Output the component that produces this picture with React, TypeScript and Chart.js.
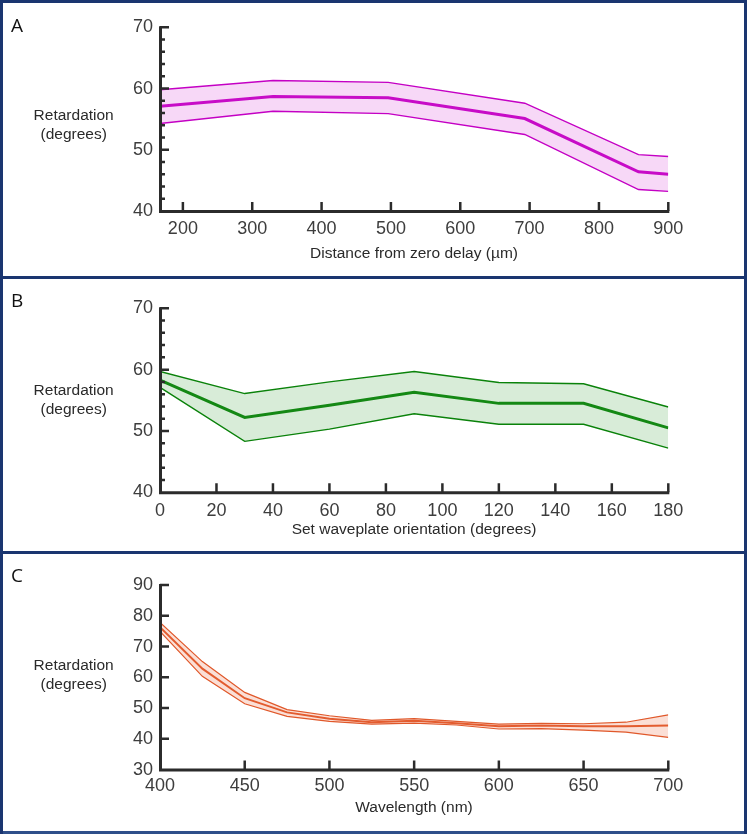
import React, { useEffect, useRef } from 'react';
import { Chart, registerables } from 'chart.js';

Chart.register(...registerables);

const FONT = '"Liberation Sans", Arial, Helvetica, sans-serif';

// ---------- Panel A : retardation vs distance from zero delay ----------
const A_X = [167, 330, 496, 693, 857, 900];
const A_MEAN = [57.1, 58.7, 58.5, 55.1, 46.4, 46.0];
const A_UPPER = [59.8, 61.3, 61.0, 57.6, 49.2, 48.9];
const A_LOWER = [54.3, 56.3, 55.9, 52.5, 43.5, 43.2];
const A_X_TICKS = [200, 300, 400, 500, 600, 700, 800, 900];
const A_Y_TICKS = [40, 50, 60, 70];
const A_Y_MINOR = [42, 44, 46, 48, 52, 54, 56, 58, 62, 64, 66, 68];

// ---------- Panel B : retardation vs set waveplate orientation ----------
const B_X = [0, 30, 60, 90, 120, 150, 180];
const B_MEAN = [58.3, 52.2, 54.2, 56.3, 54.5, 54.5, 50.5];
const B_UPPER = [59.7, 56.1, 58.0, 59.7, 57.9, 57.7, 53.9];
const B_LOWER = [57.1, 48.3, 50.3, 52.8, 51.1, 51.1, 47.2];
const B_X_TICKS = [0, 20, 40, 60, 80, 100, 120, 140, 160, 180];
const B_Y_TICKS = [40, 50, 60, 70];
const B_Y_MINOR = [42, 44, 46, 48, 52, 54, 56, 58, 62, 64, 66, 68];

// ---------- Panel C : retardation vs wavelength ----------
const C_X = [400, 425, 450, 475, 500, 525, 550, 575, 600, 625, 650, 675, 700];
const C_MEAN = [76.3, 62.8, 53.2, 48.6, 46.5, 45.4, 45.9, 45.1, 44.1, 44.3, 44.1, 44.1, 44.3];
const C_UPPER = [77.8, 65.1, 55.1, 49.5, 47.5, 46.0, 46.6, 45.7, 44.8, 45.0, 44.9, 45.4, 47.8];
const C_LOWER = [74.9, 60.3, 51.4, 47.3, 45.7, 44.8, 45.1, 44.5, 43.2, 43.3, 42.8, 42.2, 40.5];
const C_X_TICKS = [400, 450, 500, 550, 600, 650, 700];
const C_Y_TICKS = [30, 40, 50, 60, 70, 80, 90];
const C_Y_MINOR: number[] = [];

type PanelCfg = {
  top: number;
  height: number;
  letter: string;
  xTitle: string;
  xTitleTop: number;
  x: number[];
  mean: number[];
  upper: number[];
  lower: number[];
  xMin: number;
  xMax: number;
  yMin: number;
  yMax: number;
  xTicks: number[];
  yTicks: number[];
  yMinor: number[];
  color: string;
  fill: string;
  meanWidth: number;
  boundWidth: number;
  pad: { top: number; bottom: number };
  xLabelPad: number;
};

const PANELS: PanelCfg[] = [
  {
    top: 0, height: 276, letter: 'A', xTitle: 'Distance from zero delay (µm)', xTitleTop: 244.4,
    x: A_X, mean: A_MEAN, upper: A_UPPER, lower: A_LOWER,
    xMin: 167, xMax: 900, yMin: 40, yMax: 70,
    xTicks: A_X_TICKS, yTicks: A_Y_TICKS, yMinor: A_Y_MINOR,
    color: '#C400C4', fill: 'rgba(214, 60, 214, 0.2)', meanWidth: 3, boundWidth: 1.4,
    pad: { top: 27.3, bottom: 211 }, xLabelPad: 7,
  },
  {
    top: 275, height: 276, letter: 'B', xTitle: 'Set waveplate orientation (degrees)', xTitleTop: 245,
    x: B_X, mean: B_MEAN, upper: B_UPPER, lower: B_LOWER,
    xMin: 0, xMax: 180, yMin: 40, yMax: 70,
    xTicks: B_X_TICKS, yTicks: B_Y_TICKS, yMinor: B_Y_MINOR,
    color: '#0A820A', fill: 'rgba(60, 160, 60, 0.2)', meanWidth: 3, boundWidth: 1.4,
    pad: { top: 33.3, bottom: 217.3 }, xLabelPad: 8,
  },
  {
    top: 550, height: 284, letter: 'C', xTitle: 'Wavelength (nm)', xTitleTop: 248.4,
    x: C_X, mean: C_MEAN, upper: C_UPPER, lower: C_LOWER,
    xMin: 400, xMax: 700, yMin: 30, yMax: 90,
    xTicks: C_X_TICKS, yTicks: C_Y_TICKS, yMinor: C_Y_MINOR,
    color: '#E0582A', fill: 'rgba(235, 110, 70, 0.22)', meanWidth: 2, boundWidth: 1.2,
    pad: { top: 35, bottom: 219.6 }, xLabelPad: 6,
  },
];

const CHART_LEFT = 160;
const CHART_RIGHT = 668.3;
const W = 747;

function makeAxesPlugin(cfg: PanelCfg) {
  return {
    id: 'customAxes' + cfg.letter,
    afterDatasetsDraw(chart: any) {
      const { ctx, chartArea } = chart;
      const { left, right, top, bottom } = chartArea;
      const xs = chart.scales.x;
      const ys = chart.scales.y;
      ctx.save();
      ctx.strokeStyle = '#2b2b2b';
      ctx.lineCap = 'butt';
      ctx.lineWidth = 3;
      ctx.beginPath();
      ctx.moveTo(left + 0.5, top - 1);
      ctx.lineTo(left + 0.5, bottom + 0.5);
      ctx.lineTo(right + 1, bottom + 0.5);
      ctx.stroke();
      ctx.lineWidth = 2.5;
      ctx.beginPath();
      cfg.yTicks.forEach((v) => {
        if (v === cfg.yMin) return;
        const py = ys.getPixelForValue(v);
        ctx.moveTo(left, py);
        ctx.lineTo(left + 9, py);
      });
      cfg.yMinor.forEach((v) => {
        const py = ys.getPixelForValue(v);
        ctx.moveTo(left, py);
        ctx.lineTo(left + 5, py);
      });
      cfg.xTicks.forEach((v) => {
        if (v === cfg.xMin) return;
        const px = xs.getPixelForValue(v);
        ctx.moveTo(px, bottom);
        ctx.lineTo(px, bottom - 9);
      });
      ctx.stroke();
      ctx.restore();
    },
  };
}

function Panel({ cfg }: { cfg: PanelCfg }) {
  const ref = useRef<HTMLCanvasElement>(null);
  useEffect(() => {
    const canvas = ref.current;
    if (!canvas) return;
    const pts = (arr: number[]) => cfg.x.map((x, i) => ({ x, y: arr[i] }));
    const base = {
      pointRadius: 0,
      pointHoverRadius: 0,
      tension: 0,
      borderColor: cfg.color,
    };
    const chart = new Chart(canvas, {
      type: 'line',
      data: {
        datasets: [
          { ...base, label: 'lower', data: pts(cfg.lower), borderWidth: cfg.boundWidth, fill: false },
          { ...base, label: 'upper', data: pts(cfg.upper), borderWidth: cfg.boundWidth, fill: '-1', backgroundColor: cfg.fill },
          { ...base, label: 'mean', data: pts(cfg.mean), borderWidth: cfg.meanWidth, fill: false },
        ],
      } as any,
      options: {
        animation: false,
        responsive: false,
        maintainAspectRatio: false,
        events: [],
        layout: {
          padding: {
            left: CHART_LEFT - 40,
            right: W - CHART_RIGHT,
            top: cfg.pad.top,
            bottom: cfg.height - cfg.pad.bottom - 40,
          },
        },
        plugins: { legend: { display: false }, tooltip: { enabled: false } },
        scales: {
          x: {
            type: 'linear',
            min: cfg.xMin,
            max: cfg.xMax,
            grid: { display: false, drawTicks: false },
            border: { display: false },
            ticks: {
              autoSkip: false,
              maxRotation: 0,
              minRotation: 0,
              padding: cfg.xLabelPad,
              color: '#3d3d3d',
              font: { family: FONT, size: 18 },
              callback: (v: any) => String(v),
            },
            afterBuildTicks: (s: any) => {
              s.ticks = cfg.xTicks.map((value) => ({ value }));
            },
            afterFit: (s: any) => {
              s.height = 40;
            },
          },
          y: {
            type: 'linear',
            min: cfg.yMin,
            max: cfg.yMax,
            grid: { display: false, drawTicks: false },
            border: { display: false },
            ticks: {
              autoSkip: false,
              padding: 7,
              color: '#3d3d3d',
              font: { family: FONT, size: 18 },
              callback: (v: any) => String(v),
            },
            afterBuildTicks: (s: any) => {
              s.ticks = cfg.yTicks.map((value) => ({ value }));
            },
            afterFit: (s: any) => {
              s.width = 40;
            },
          },
        },
      } as any,
      plugins: [makeAxesPlugin(cfg)],
    });
    return () => chart.destroy();
  }, [cfg]);

  return (
    <div style={{ position: 'absolute', left: 0, top: cfg.top, width: W, height: cfg.height }}>
      <canvas
        ref={ref}
        width={W}
        height={cfg.height}
        style={{ position: 'absolute', left: 0, top: 0, width: W, height: cfg.height }}
      />
      <div
        style={{
          position: 'absolute', left: 11, top: 13.5, fontFamily: '"Open Sans", sans-serif',
          fontSize: 19, lineHeight: '22px', color: '#111',
        }}
      >
        {cfg.letter}
      </div>
      <div
        style={{
          position: 'absolute', left: 13.7, top: 104.5, width: 120, textAlign: 'center',
          fontFamily: FONT, fontSize: 15.5, lineHeight: '19px', color: '#2a2a2a',
        }}
      >
        Retardation
        <br />
        (degrees)
      </div>
      <div
        style={{
          position: 'absolute', left: 214, top: cfg.xTitleTop, width: 400, textAlign: 'center',
          fontFamily: FONT, fontSize: 15.5, lineHeight: '18px', color: '#2a2a2a', whiteSpace: 'nowrap',
        }}
      >
        {cfg.xTitle}
      </div>
    </div>
  );
}

const BORDER = '#1A3570';

export default function App() {
  return (
    <div
      style={{
        position: 'absolute', left: 0, top: 0, width: W, height: 834, background: '#fff', overflow: 'hidden',
      }}
    >
      {PANELS.map((p) => (
        <Panel key={p.letter} cfg={p} />
      ))}
      {/* panel frames */}
      <div style={{ position: 'absolute', left: 0, top: 0, width: W, height: 3, background: BORDER }} />
      <div style={{ position: 'absolute', left: 0, top: 276, width: W, height: 3, background: BORDER }} />
      <div style={{ position: 'absolute', left: 0, top: 551, width: W, height: 3, background: BORDER }} />
      <div style={{ position: 'absolute', left: 0, top: 831, width: W, height: 3, background: '#2F4F8A' }} />
      <div style={{ position: 'absolute', left: 0, top: 0, width: 3, height: 834, background: BORDER }} />
      <div style={{ position: 'absolute', left: 744, top: 0, width: 3, height: 834, background: BORDER }} />
    </div>
  );
}
